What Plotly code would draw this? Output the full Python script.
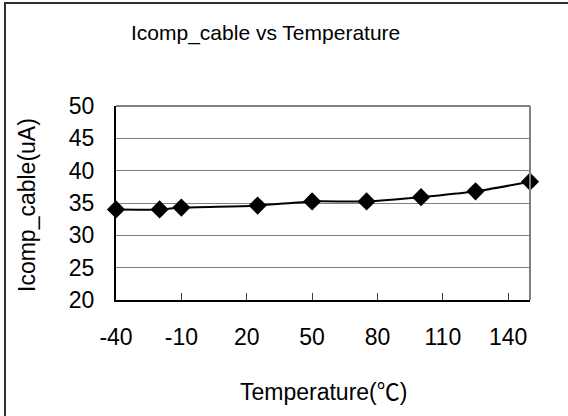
import plotly.graph_objects as go

temps = [-40, -20, -10, 25, 50, 75, 100, 125, 150]
icomp = [34.0, 34.0, 34.3, 34.6, 35.25, 35.25, 35.9, 36.8, 38.3]
x_ticks = [-40, -10, 20, 50, 80, 110, 140]
y_ticks = [20, 25, 30, 35, 40, 45, 50]

FONT = "Liberation Sans, Arial, Noto Sans CJK SC, sans-serif"

fig = go.Figure()
fig.add_trace(go.Scatter(
    x=temps, y=icomp, mode="lines+markers",
    line=dict(color="black", width=2, shape="spline", smoothing=0.6),
    marker=dict(symbol="diamond", size=14, color="black"),
    cliponaxis=False, showlegend=False,
))

fig.update_layout(
    width=568, height=416,
    margin=dict(l=116, r=38, t=106, b=116),
    paper_bgcolor="white", plot_bgcolor="white",
    font=dict(family=FONT, color="black", size=23),
    xaxis=dict(range=[-40, 150], tickvals=x_ticks, ticktext=[str(v) for v in x_ticks],
               ticks="inside", ticklen=7, tickcolor="#404040", tickwidth=1,
               showline=True, linecolor="black", linewidth=2,
               showgrid=False, zeroline=False, ticklabelstandoff=15,
               tickfont=dict(size=23)),
    yaxis=dict(range=[20, 50], tickvals=y_ticks, ticks="",
               showline=True, linecolor="black", linewidth=2,
               showgrid=True, gridcolor="#808080", gridwidth=1,
               zeroline=False, ticklabelstandoff=15,
               tickfont=dict(size=23)),
    shapes=[
        # plot area border (top/right gray)
        dict(type="line", xref="paper", yref="paper", x0=0, x1=1, y0=1, y1=1,
             line=dict(color="#808080", width=2)),
        dict(type="line", xref="paper", yref="paper", x0=1, x1=1, y0=0, y1=1,
             line=dict(color="#808080", width=2)),
        # outer chart border
        dict(type="rect", xref="paper", yref="paper",
             x0=(5 - 116) / 414, x1=2.0, y0=-2.0, y1=1 + (106 - 3) / 194,
             line=dict(color="#303030", width=2), layer="below"),
    ],
    annotations=[
        dict(text="Icomp_cable vs Temperature", xref="paper", yref="paper",
             x=(265 - 116) / 414, y=1 + (106 - 33) / 194, showarrow=False,
             xanchor="center", yanchor="middle", font=dict(size=21)),
        dict(text="Temperature(℃)", xref="paper", yref="paper",
             x=0.5, y=-(392 - 300) / 194, showarrow=False,
             xanchor="center", yanchor="middle", font=dict(size=23)),
        dict(text="Icomp_cable(uA)", xref="paper", yref="paper",
             x=(27 - 116) / 414, y=(300 - 205) / 194, showarrow=False,
             xanchor="center", yanchor="middle", textangle=-90, font=dict(size=23)),
    ],
)

fig.write_html("out.html")
